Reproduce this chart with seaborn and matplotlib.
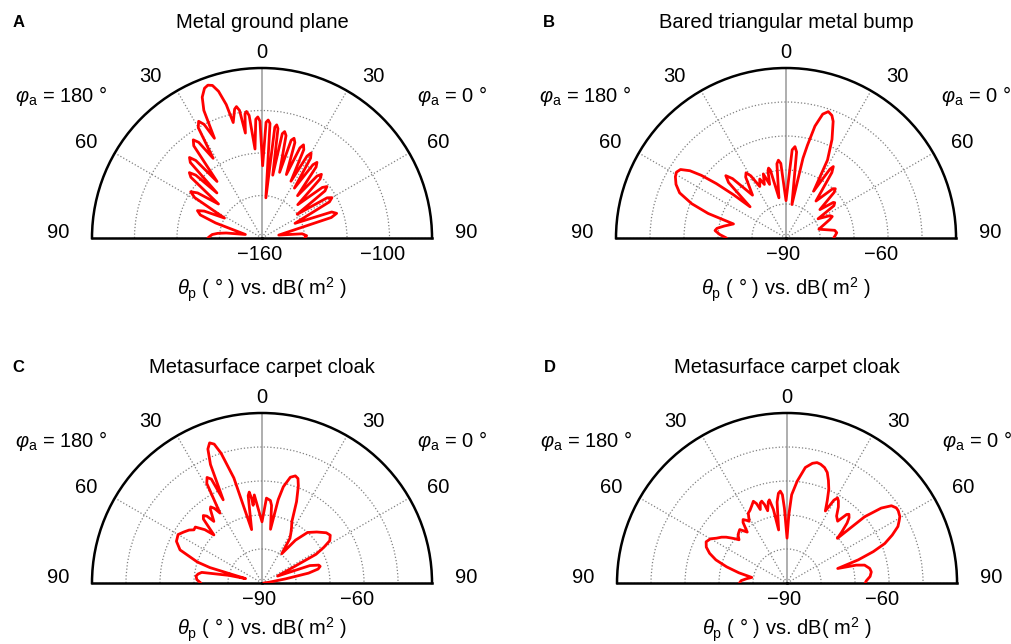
import numpy as np
import pandas as pd
import matplotlib
matplotlib.use("Agg")
import matplotlib.pyplot as plt
import seaborn as sns

# scattering patterns, angle (deg, negative = phi_a 180 side) vs dB(m^2)
a_theta = [-90, -88, -86, -84, -82, -78, -72, -69.5, -67, -65, -62, -59, -57, -55, -52,
           -49.5, -48, -46.5, -45, -43.5, -42, -40.5, -38.5, -36.5, -35, -33.5, -31.5,
           -30, -28.5, -27, -25.5, -24.5, -23, -21, -19.5, -18, -16.5, -15, -14,
           -12, -11, -10, -9, -7.8, -7, -6, -4.5, -3, -2, -1, 0.5,
           2, 3, 4, 5.5, 6.6, 7.4, 8.3, 9.7, 11, 12, 13.2, 15, 16.6, 17.8, 19, 21,
           22.8, 24, 25.3, 27, 28.8, 30, 31.3, 33, 34.8, 36, 37.3, 40, 41.6, 43, 44.5, 47,
           50, 51.6, 53.2, 56, 58.3, 60, 61.8, 66, 69.5, 71.7, 73.5, 80, 84, 87, 89, 90]
a_db = [-134.5, -135.5, -136.5, -139, -143, -152, -137, -129, -127, -130, -140, -123, -120, -123, -134,
        -116, -114, -117, -130, -111, -109, -112, -126, -106, -103.6, -106, -116,
        -100, -97.5, -100, -108, -94, -88, -84.5, -83.7, -84.5, -88, -95, -104,
        -98, -97, -99, -110, -101, -100, -102, -118, -104, -103, -105, -126,
        -105.5, -104.4, -106, -141, -107.5, -106.3, -108, -130, -110, -108.8, -110.5, -128, -112, -110.7, -112.5, -128,
        -114, -112, -114, -130, -116, -113.8, -116, -132, -118, -116, -118, -134, -121, -119, -121, -137,
        -123, -121, -123, -140, -124, -122, -124, -143, -125, -123, -126, -152, -141, -139, -139.5, -140]

b_theta = [-90, -87, -84, -82, -79, -75, -72.5, -70, -67, -64, -61, -59, -57, -55, -53.5, -52,
           -50.5, -49, -46, -44, -42, -38, -33.5, -31.5, -29.5, -27, -24, -22, -19.5, -17,
           -15, -14, -13, -10, -7, -5.6, -4, 0, 4, 5.6, 7, 10, 12, 13, 14.5, 16.5, 18.5,
           20.5, 22, 25, 28, 30.5, 32.5, 33.5, 35, 39, 43.5, 45, 46.5, 50, 53, 54, 56, 59,
           63, 65, 67, 75, 81, 84, 87, 90]
b_db = [-72.5, -70.5, -69, -69.5, -71.5, -74, -66, -60.5, -56, -54, -52.8, -52.4, -53, -55.5, -59, -64,
        -70, -76, -66.5, -64.5, -66.5, -74, -68.5, -67.5, -69, -73, -71, -73, -70, -73.5,
        -69.5, -68.8, -69.5, -78, -68, -67, -68, -79, -64, -63, -64.5, -80, -66, -62, -56, -52, -50.8,
        -51.5, -53, -58, -64, -74, -66, -64.8, -66.5, -76, -70, -69.5, -70.5, -77, -72.6, -72.3, -73, -79,
        -75.5, -75, -76, -80, -75.5, -75, -75.5, -76]

c_theta = [-90, -87, -84, -82, -80, -77, -75, -73.5, -72, -68, -64, -60, -57, -54, -52, -50, -47,
           -45, -42.5, -41, -39.5, -38, -35, -34, -32.5, -31, -29, -27.5, -26, -25, -23.5,
           -22, -20.5, -19, -17.5, -15, -11, -9, -8, -7, -6.5, -5, -3, 0, 3, 5.8, 7, 9,
           11, 12.5, 15, 17.3, 19, 20.5, 23, 26, 28, 30, 32, 34, 38, 42, 47, 52, 55, 58,
           60, 62, 66, 70, 72.5, 74, 76, 78, 80, 84, 90]
c_db = [-72, -70.8, -70.5, -71, -72, -80, -85, -74, -70, -64, -62, -61.5, -62.5, -63.5, -64.6, -64.4, -67,
        -70, -64.5, -63.7, -64.5, -67, -63.5, -63, -64, -66, -56.5, -55, -56, -63, -52,
        -47.5, -46, -46.8, -50, -58, -74, -64, -63, -65, -67, -64, -68, -72, -65, -65.6, -67, -74,
        -65, -61, -57.8, -57, -57.5, -59.5, -64, -70, -71.5, -73, -74.5, -79.6, -74, -70, -68, -66, -65.5, -66.5,
        -69, -72, -85, -75, -72.5, -72.2, -73, -76, -83, -88, -89.5]

d_theta = [-90, -87, -84, -81, -78, -75, -72, -69, -66, -63, -60, -57.6, -55, -53, -51, -49.5,
           -48, -45.5, -44, -41.5, -38, -36, -34.7, -33, -31.5, -29, -27, -24.5, -22.4, -21,
           -20, -18.5, -17.2, -16, -15, -13, -12, -10.5, -9, -7, -5.5, -4.2, -3, -2, 0,
           1.5, 3, 5.7, 9, 12, 14, 15.8, 18, 20, 22, 24, 26, 28, 29.5, 30.7, 32, 34, 36.5,
           39.3, 41, 42, 43.5, 45, 47, 48.4, 49.5, 51.5, 53.5, 55.5, 57, 59.5, 61, 63, 65.5,
           68, 70, 72, 74, 75.5, 77, 80, 82.5, 85.5, 88.5, 90]
d_db = [-76, -76.5, -78, -79.5, -75.5, -71.6, -68, -65.6, -64, -63.3, -64, -65.4, -66.5, -67.6, -69, -70,
        -71, -69.8, -69.5, -69, -71, -68, -67.3, -68, -68.7, -66.5, -66, -65, -64, -65,
        -67, -65.2, -64.8, -66, -68, -65.5, -65, -68, -74.2, -66, -63.5, -62.9, -64, -68, -76.8,
        -70, -64, -59.9, -55.6, -54, -53.5, -53.7, -54.3, -55.4, -57.5, -59.8, -63, -66, -62, -60.9, -61.5, -63, -65.5,
        -66.5, -63.3, -62.8, -63.5, -65, -68, -70.2, -60, -54.6, -51.8, -51, -51, -51.5, -52.3, -53.4, -56,
        -59, -63, -68, -74.5, -69, -66.6, -65.3, -65, -65.5, -66.7, -67]

titles = ["Metal ground plane", "Bared triangular metal bump",
          "Metasurface carpet cloak", "Metasurface carpet cloak"]
letters = ["A", "B", "C", "D"]

a_rgrid = [-160, -140, -120, -100, -80]
a_rlabels = {-160: "\u2212160", -100: "\u2212100"}
bcd_rgrid = [-90, -80, -70, -60, -50, -40]
bcd_rlabels = {-90: "\u221290", -60: "\u221260"}

angle_ticks = [-90, -60, -30, 0, 30, 60, 90]
angle_labels = ["90", "60", "30", "0", "30", "60", "90"]
# where the angle labels sit: (angle in deg, radius as fraction of the disc)
label_spots = [(-88.5, 1.2), (-61.5, 1.18), (-34.5, 1.155), (0, 1.09),
               (34.5, 1.155), (61.5, 1.18), (88.5, 1.2)]

sns.set_theme(style="white")
plt.rcParams["font.family"] = ["Liberation Sans", "DejaVu Sans"]
plt.rcParams["mathtext.fontset"] = "custom"
plt.rcParams["mathtext.rm"] = "Liberation Sans"
plt.rcParams["mathtext.it"] = "Liberation Sans:italic"
plt.rcParams["mathtext.bf"] = "Liberation Sans:bold"
plt.rcParams["text.color"] = "black"

FS = 14.5
fig = plt.figure(figsize=(10.12, 6.44), dpi=100)

# square boxes; the half disc sits in their lower-middle part
rects = [[0.0909, 0.4984, 0.336, 0.528],
         [0.6087, 0.4984, 0.336, 0.528],
         [0.0909, -0.0373, 0.336, 0.528],
         [0.6097, -0.0373, 0.336, 0.528]]
xlabel_y = [0.097, 0.097, 0.112, 0.112]
letter_x = [-0.235, -0.215, -0.235, -0.215]
series = [(a_theta, a_db, a_rgrid, a_rlabels),
          (b_theta, b_db, bcd_rgrid, bcd_rlabels),
          (c_theta, c_db, bcd_rgrid, bcd_rlabels),
          (d_theta, d_db, bcd_rgrid, bcd_rlabels)]


def draw_panel(rect, letter, title, theta, db, rgrid, rlabels, xly, lx):
    ax = fig.add_axes(rect, projection="polar")
    ax.set_theta_zero_location("N")
    ax.set_theta_direction(-1)
    ax.set_thetamin(-90)
    ax.set_thetamax(90)
    rmin, rmax = rgrid[0], rgrid[-1]
    ax.set_rlim(rmin, rmax)

    df = pd.DataFrame({"theta": np.deg2rad(theta), "db": db})
    sns.lineplot(data=df, x="theta", y="db", ax=ax, sort=False, estimator=None,
                 color="#ff0000", lw=2.0, zorder=5)
    ax.set_xlabel("")
    ax.set_ylabel("")

    ax.set_xticks(np.deg2rad(angle_ticks))
    ax.set_xticklabels([])
    ax.tick_params(axis="x", length=0)
    ax.set_yticks(rgrid)
    ax.set_yticklabels([])
    ax.tick_params(axis="y", length=0)
    ax.grid(True, linestyle=":", color="#808080", lw=0.9)
    # solid line at normal incidence
    ax.xaxis.get_major_ticks()[3].gridline.set(linestyle="-", color="#999999", lw=1.1)

    for s in ["polar", "start", "end"]:
        ax.spines[s].set_color("black")
        ax.spines[s].set_linewidth(1.8)
    ax.spines["inner"].set_visible(False)

    for (ang, frac), txt in zip(label_spots, angle_labels):
        ax.text(np.deg2rad(ang), rmin + frac * (rmax - rmin), txt,
                ha="center", va="center", fontsize=FS)

    for val, txt in rlabels.items():
        ang = 0 if val == rmin else 90
        dx = -2 if val == rmin else -5
        ax.annotate(txt, xy=(np.deg2rad(ang), val), xytext=(dx, -5),
                    textcoords="offset points", ha="center", va="top", fontsize=FS)

    ax.text(0.5, 0.885, title, transform=ax.transAxes, ha="center", va="center", fontsize=FS)
    ax.text(lx, 0.885, letter, transform=ax.transAxes, ha="left", va="center",
            fontsize=12, fontweight="bold")
    ax.text(-0.09, 0.668, r"$\varphi_\mathrm{a}$ = 180 °", transform=ax.transAxes,
            ha="center", va="center", fontsize=FS)
    ax.text(1.058, 0.668, r"$\varphi_\mathrm{a}$ = 0 °", transform=ax.transAxes,
            ha="center", va="center", fontsize=FS)
    ax.text(0.5, xly, r"$\theta_\mathrm{p}$ ( ° ) vs. dB( m$^2$ )", transform=ax.transAxes,
            ha="center", va="center", fontsize=FS)


for i in range(4):
    th, db, rg, rl = series[i]
    draw_panel(rects[i], letters[i], titles[i], th, db, rg, rl, xlabel_y[i], letter_x[i])

fig.savefig("out.png", dpi=100)
